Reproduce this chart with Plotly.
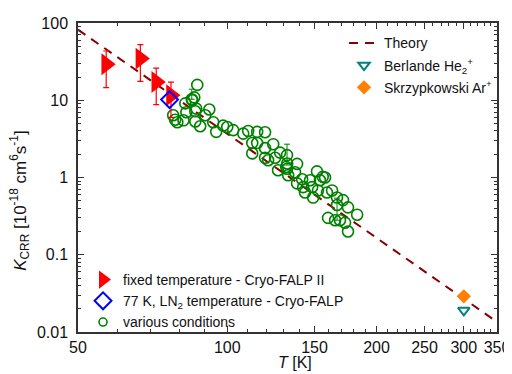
import plotly.graph_objects as go

# ---------------- data ----------------
theory_T = [50, 350]
theory_K = [82, 0.0135]

fixed_T = [57.0, 66.8, 71.9, 77.0]
fixed_K = [29.2, 34.6, 17.2, 11.6]
fixed_K_hi = [43.4, 52.5, 26.1, 17.2]
fixed_K_lo = [14.6, 17.6, 8.8, 6.0]

ln2_T = [76.5]
ln2_K = [10.2]

berlande_T = [300]
berlande_K = [0.0191]

skrz_T = [300]
skrz_K = [0.029]

various_T = [77.8, 78.5, 79.3, 81.6, 82.7, 82.3, 85.0, 85.8, 87.0, 84.8,
             86.2, 86.6, 86.2, 88.2, 90.3, 92.0, 93.7, 95.0, 98.1, 100.0,
             102.8, 107.7, 110.2, 119.2, 112.3, 114.9, 112.3, 119.2, 123.8, 119.2,
             120.9, 124.9, 127.8, 132.0, 132.1, 132.1, 126.6, 132.7, 137.0, 138.3,
             141.6, 138.3, 143.5, 146.9, 149.0, 151.7, 153.8, 157.5, 158.9, 162.7,
             166.5, 171.2, 166.5, 175.2, 182.8, 159.7, 165.0, 168.8, 172.8, 175.2,
             142.3, 148.3, 152.4, 155.8, 131.5, 114.9]
various_K = [6.4, 5.6, 5.2, 5.5, 7.0, 9.1, 10.0, 10.9, 15.8, 10.3,
             7.2, 7.8, 5.3, 4.6, 6.4, 7.6, 5.2, 3.9, 4.7, 4.5,
             4.1, 3.7, 4.0, 3.85, 2.8, 2.8, 2.05, 2.4, 2.7, 1.8,
             1.67, 1.8, 2.1, 1.95, 1.52, 1.3, 1.24, 1.07, 1.17, 1.5,
             0.95, 0.84, 0.64, 0.92, 0.55, 1.2, 0.92, 1.0, 0.64, 0.68,
             0.55, 0.51, 0.44, 0.41, 0.33, 0.3, 0.28, 0.28, 0.26, 0.2,
             0.75, 0.75, 0.68, 1.02, 1.37, 3.9]
# points of "various conditions" that carry error bars
various_err_T = [84.8, 132.0, 166.5]
various_err_K = [10.3, 1.95, 0.44]
various_err_plus = [3.6, 0.75, 0.10]
various_err_minus = [0.0, 0.5, 0.16]

x_major = [50, 100, 150, 200, 250, 300, 350]
x_minor = [60, 70, 80, 90, 110, 120, 130, 140, 160, 170, 180, 190,
           210, 220, 230, 240, 260, 270, 280, 290, 310, 320, 330, 340]
y_major = [0.01, 0.1, 1, 10, 100]
y_major_text = ["0.01", "0.1", "1", "10", "100"]
y_minor = [m * 10 ** e for e in range(-2, 2) for m in range(2, 10)]

FONT = "Liberation Sans, Arial, sans-serif"
RED = "#ff0000"
BLUE = "#0000ff"
GREEN = "#008000"
THEORY = "#8b0000"
TEAL = "#008080"
ORANGE = "#ff8000"

fig = go.Figure()

# theory line
fig.add_trace(go.Scatter(x=theory_T, y=theory_K, mode="lines",
                         line=dict(color=THEORY, width=2, dash="9px,7px"),
                         name="Theory", legend="legend", legendgroup="a"))

# various conditions: error bars then markers
fig.add_trace(go.Scatter(x=various_err_T, y=various_err_K, mode="none",
                         error_y=dict(type="data", symmetric=False, array=various_err_plus,
                                      arrayminus=various_err_minus, color=GREEN,
                                      thickness=1, width=3),
                         showlegend=False, hoverinfo="skip"))
fig.add_trace(go.Scatter(x=various_T, y=various_K, mode="markers",
                         marker=dict(symbol="circle-open", size=11, color=GREEN,
                                     line=dict(width=1.6, color=GREEN)),
                         showlegend=False))

# fixed temperature
fig.add_trace(go.Scatter(x=fixed_T, y=fixed_K, mode="markers",
                         marker=dict(symbol="triangle-right", size=19, color=RED),
                         error_y=dict(type="data", symmetric=False,
                                      array=[h - k for h, k in zip(fixed_K_hi, fixed_K)],
                                      arrayminus=[k - l for k, l in zip(fixed_K, fixed_K_lo)],
                                      color=RED, thickness=1.2, width=3),
                         showlegend=False))

# 77 K LN2
fig.add_trace(go.Scatter(x=ln2_T, y=ln2_K, mode="markers",
                         marker=dict(symbol="diamond-open", size=13, color=BLUE,
                                     line=dict(width=2, color=BLUE)),
                         showlegend=False))

# Berlande & Skrzypkowski
fig.add_trace(go.Scatter(x=berlande_T, y=berlande_K, mode="markers",
                         marker=dict(symbol="triangle-down-open", size=10, color=TEAL,
                                     line=dict(width=2, color=TEAL)),
                         name="Berlande He<sub>2</sub><sup>+</sup>",
                         legend="legend", legendgroup="b"))
fig.add_trace(go.Scatter(x=skrz_T, y=skrz_K, mode="markers",
                         marker=dict(symbol="diamond", size=11, color=ORANGE),
                         name="Skrzypkowski Ar<sup>+</sup>",
                         legend="legend", legendgroup="c"))

# legend proxies for the bottom-left legend
fig.add_trace(go.Scatter(x=[None], y=[None], mode="markers",
                         marker=dict(symbol="triangle-right", size=16, color=RED),
                         name="fixed temperature - Cryo-FALP II",
                         legend="legend2", legendgroup="d"))
fig.add_trace(go.Scatter(x=[None], y=[None], mode="markers",
                         marker=dict(symbol="diamond-open", size=13, color=BLUE,
                                     line=dict(width=2, color=BLUE)),
                         name="77 K, LN<sub>2</sub> temperature - Cryo-FALP",
                         legend="legend2", legendgroup="e"))
fig.add_trace(go.Scatter(x=[None], y=[None], mode="markers",
                         marker=dict(symbol="circle-open", size=8, color=GREEN,
                                     line=dict(width=1.6, color=GREEN)),
                         name="various conditions",
                         legend="legend2", legendgroup="f"))

axis_common = dict(showline=True, linecolor="#333333", linewidth=1.5, mirror="ticks",
                   ticks="inside", ticklen=6, tickwidth=1.2, tickcolor="#333333",
                   showgrid=False, zeroline=False, automargin=False,
                   tickfont=dict(family=FONT, size=16, color="#111111"))

fig.update_xaxes(type="log", range=[1.69897, 2.544068],
                 tickvals=x_major, ticktext=[str(v) for v in x_major],
                 minor=dict(tickvals=x_minor, ticks="inside", ticklen=3, tickwidth=1,
                            tickcolor="#333333", showgrid=False),
                 ticklabelstandoff=0,
                 **axis_common)
fig.update_yaxes(type="log", range=[-2, 2],
                 tickvals=y_major, ticktext=y_major_text,
                 minor=dict(tickvals=y_minor, ticks="inside", ticklen=3, tickwidth=1,
                            tickcolor="#333333", showgrid=False),
                 ticklabelstandoff=5,
                 **axis_common)

fig.add_annotation(text="<i>K</i><sub>CRR</sub> [10<sup>-18</sup> cm<sup>6</sup>s<sup>-1</sup>]",
                   xref="paper", yref="paper", x=-0.138, y=0.425,
                   xanchor="center", yanchor="middle", textangle=-90, showarrow=False,
                   font=dict(family=FONT, size=17, color="#111111"))
fig.add_annotation(text="<i>T</i> [K]",
                   xref="paper", yref="paper", x=0.518, y=-0.098,
                   xanchor="center", yanchor="middle", showarrow=False,
                   font=dict(family=FONT, size=16, color="#111111"))

# page has an 8px body margin, so the figure is shifted by 8px; margins compensate
fig.update_layout(
    width=512, height=374,
    margin=dict(l=70, r=23, t=15, b=50, autoexpand=False),
    paper_bgcolor="white", plot_bgcolor="white",
    font=dict(family=FONT, size=14, color="#111111"),
    legend=dict(x=1.0, y=0.986, xanchor="right", yanchor="top",
                bgcolor="rgba(0,0,0,0)", tracegroupgap=1,
                font=dict(family=FONT, size=14, color="#111111")),
    legend2=dict(x=0.012, y=0.22, xanchor="left", yanchor="top",
                 bgcolor="rgba(0,0,0,0)", tracegroupgap=0,
                 font=dict(family=FONT, size=14, color="#111111")),
)

fig.write_html("out.html")
